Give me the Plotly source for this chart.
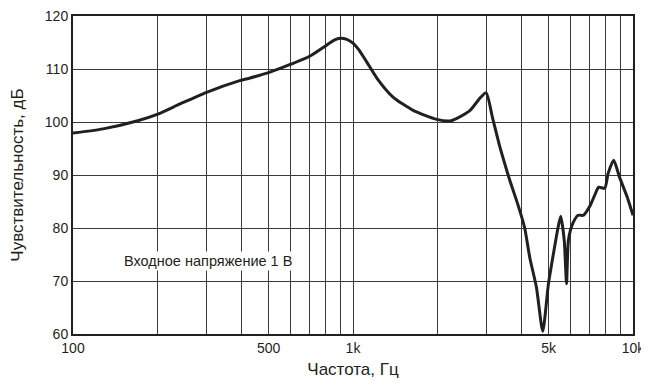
import numpy as np
import plotly.graph_objects as go

# Frequency response (Hz, dB)
freq_hz = [100, 128, 169, 201, 241, 300, 394, 429, 505, 600, 700, 800, 860,
           900, 950, 1000, 1050, 1120, 1220, 1390, 1640, 1990, 2220, 2350,
           2620, 2840, 2990, 3150, 3350, 3480, 3630, 3870, 4100, 4280, 4520,
           4760, 4990, 5200, 5400, 5520, 5680, 5790, 5880, 6100, 6370, 6650,
           7040, 7300, 7540, 7930, 8150, 8530, 8950, 9540, 10000]
sens_db = [97.9, 98.7, 100.2, 101.5, 103.4, 105.6, 107.8, 108.3, 109.4, 110.9,
           112.4, 114.4, 115.5, 115.8, 115.6, 114.9, 113.6, 111.3, 108.2, 104.7,
           102.2, 100.5, 100.2, 100.7, 102.2, 104.5, 105.5, 100.8, 95.2, 92.2,
           89.0, 84.6, 80.1, 74.4, 68.8, 60.5, 69.5, 75.2, 80.1, 82.2, 77.7,
           69.5, 77.7, 80.9, 82.4, 82.4, 84.3, 86.2, 87.7, 87.5, 90.3, 92.8,
           89.6, 85.8, 82.4]

grid_x = [100, 200, 300, 400, 500, 600, 700, 800, 900,
          1000, 2000, 3000, 4000, 5000, 6000, 7000, 8000, 9000, 10000]
x_labels = {100: "100", 500: "500", 1000: "1k", 5000: "5k", 10000: "10k"}
y_ticks = [60, 70, 80, 90, 100, 110, 120]

FONT = "Liberation Sans, Arial, sans-serif"
INK = "#231f20"

fig = go.Figure()
fig.add_trace(
    go.Scatter(
        x=freq_hz,
        y=sens_db,
        mode="lines",
        line=dict(color=INK, width=3, shape="spline", smoothing=0.6),
        hoverinfo="x+y",
    )
)

fig.add_annotation(
    x=np.log10(303), y=73.7, xref="x", yref="y",
    text="Входное напряжение 1 В",
    showarrow=False,
    bgcolor="white",
    font=dict(size=14.5, color=INK, family=FONT),
)

axis_common = dict(
    showline=True, linecolor=INK, linewidth=2, mirror=True,
    showgrid=True, gridcolor="#3a3a3a", gridwidth=1,
    ticks="", zeroline=False, automargin=False,
    ticklabeloverflow="allow",
    tickfont=dict(size=14, color=INK, family=FONT),
)

fig.update_xaxes(
    type="log",
    range=[2, 4],
    tickvals=grid_x,
    ticktext=[x_labels.get(v, "") for v in grid_x],
    title=dict(text="Частота, Гц", font=dict(size=17, color=INK, family=FONT), standoff=8),
    **axis_common,
)
fig.update_yaxes(
    range=[60, 120],
    tickvals=y_ticks,
    title=dict(text="Чувствительность, дБ", font=dict(size=17, color=INK, family=FONT), standoff=24),
    **axis_common,
)

# the page body adds an 8px offset, so margins are shifted to keep the plot area in place
fig.update_layout(
    width=649,
    height=382,
    margin=dict(l=65, r=24, t=8, b=56),
    plot_bgcolor="white",
    paper_bgcolor="white",
    showlegend=False,
    font=dict(family=FONT),
)

fig.write_html("out.html")
